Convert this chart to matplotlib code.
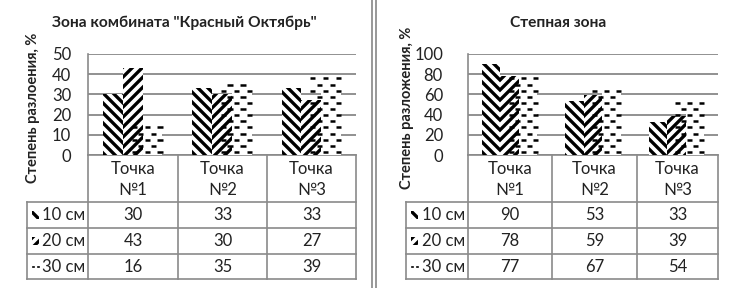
import numpy as np
import matplotlib
matplotlib.use("Agg")
import matplotlib.pyplot as plt
from matplotlib.patches import Rectangle
from matplotlib.collections import LineCollection
from matplotlib.lines import Line2D

W, H, DPI = 737, 288, 120

points = ["Точка\n№1", "Точка\n№2", "Точка\n№3"]
depths = ["10 см", "20 см", "30 см"]

left_title = 'Зона комбината "Красный Октябрь"'
left_ylabel = "Степень разлоения, %"
left_vals = [[30, 33, 33], [43, 30, 27], [16, 35, 39]]
left_ymax, left_ystep = 50, 10

right_title = "Степная зона"
right_ylabel = "Степень разложения, %"
right_vals = [[90, 53, 33], [78, 59, 39], [77, 67, 54]]
right_ymax, right_ystep = 100, 20

GRID = "#8a8a8a"
HATCHES = ["\\\\\\\\", "////", None]

plt.rcParams.update({
    "font.family": ["Lato", "DejaVu Sans"], "font.size": 10,
    "hatch.linewidth": 2.0, "text.color": "#222222",
})

fig = plt.figure(figsize=(W / DPI, H / DPI), dpi=DPI)
ov = fig.add_axes([0, 0, 1, 1])
ov.set_xlim(0, W)
ov.set_ylim(H, 0)
ov.axis("off")


def px_axes(x0, y0, x1, y1):
    return fig.add_axes([x0 / W, 1 - y1 / H, (x1 - x0) / W, (y1 - y0) / H])


def dashed_bar(ax, x, w, h, ymax):
    rect = Rectangle((x - w / 2, 0), w, h, facecolor="white", edgecolor="none", zorder=3)
    ax.add_patch(rect)
    step = ymax / 16.5
    period = w * 0.65
    dash = w * 0.26
    segs = []
    j = 0
    y = step * 0.5
    while y < h:
        off = (j % 2) * period / 2
        xs = x - w / 2 - period + off + w * 0.1
        while xs < x + w / 2:
            segs.append([(xs, y), (xs + dash, y)])
            xs += period
        y += step
        j += 1
    lc = LineCollection(segs, colors="black", linewidths=1.5, zorder=4)
    lc.set_clip_path(rect)
    ax.add_collection(lc)


def panel(vals, ymax, ystep, title, ylabel, ax_box, cols, lab_x0, lab_x1,
          title_x, ylabel_x, tick_pad):
    x0, y0, x1, y1 = ax_box
    ax = px_axes(x0, y0, x1, y1)
    bw = 0.222
    for k, series in enumerate(vals):
        for i, v in enumerate(series):
            xc = i + (k - 1) * bw
            if HATCHES[k]:
                ax.bar(xc, v, bw, color="white", edgecolor="black", linewidth=0,
                       hatch=HATCHES[k], zorder=3)
            else:
                dashed_bar(ax, xc, bw, v, ymax)
    ax.set_xlim(-0.5, len(points) - 0.5)
    ax.set_ylim(0, ymax)
    ax.set_yticks(np.arange(0, ymax + 1, ystep))
    ax.set_xticks([])
    ax.tick_params(axis="y", length=0, pad=tick_pad, labelsize=10, labelcolor="#222222")
    ax.grid(axis="y", color=GRID, linewidth=1.1, zorder=0)
    ax.set_axisbelow(True)
    for s in ["top", "right", "bottom"]:
        ax.spines[s].set_visible(False)
    ax.spines["left"].set_color(GRID)
    ax.spines["left"].set_linewidth(1.0)
    ax.patch.set_alpha(0)

    # data table
    rows = [155, 202, 228, 254, 279]
    lk = dict(color=GRID, linewidth=1.0)
    ov.add_line(Line2D([cols[0], cols[-1]], [rows[0], rows[0]], **lk))
    for r in rows[1:]:
        ov.add_line(Line2D([lab_x0, cols[-1]], [r, r], **lk))
    for c in cols:
        ov.add_line(Line2D([c, c], [rows[0], rows[-1]], **lk))
    ov.add_line(Line2D([lab_x0, lab_x0], [rows[1], rows[-1]], **lk))
    for i, p in enumerate(points):
        ov.text((cols[i] + cols[i + 1]) / 2, (rows[0] + rows[1]) / 2 + 1, p,
                ha="center", va="center", fontsize=10, linespacing=1.35)
    for k, series in enumerate(vals):
        yc = (rows[k + 1] + rows[k + 2]) / 2
        for i, v in enumerate(series):
            ov.text((cols[i] + cols[i + 1]) / 2, yc, str(v), ha="center", va="center",
                    fontsize=10)
        ov.text(lab_x1 - 3, yc, depths[k], ha="right", va="center", fontsize=10)
        sx = lab_x0 + 5
        if HATCHES[k]:
            ov.add_patch(Rectangle((sx, yc - 4), 7, 8, facecolor="white", edgecolor="black",
                                   linewidth=0, hatch=HATCHES[k]))
        else:
            ov.add_line(Line2D([sx + 1, sx + 2.5], [yc, yc], color="black", linewidth=1.0))
            ov.add_line(Line2D([sx + 6, sx + 7.5], [yc, yc], color="black", linewidth=1.0))

    ov.text(title_x, 23, title, ha="center", va="center", fontsize=9.3, fontweight="bold")
    ov.text(ylabel_x, 108, ylabel, ha="center", va="center", rotation=90,
            fontsize=8.8, fontweight="bold")
    return ax


panel(left_vals, left_ymax, left_ystep, left_title, left_ylabel,
      (88, 54, 356, 155), [88, 178, 267, 356], 27, 88, 184, 33, 10)
panel(right_vals, right_ymax, right_ystep, right_title, right_ylabel,
      (468, 54, 718, 155), [468, 552, 637, 718], 406, 468, 558, 407, 15)

for sx in [372, 376]:
    ov.add_line(Line2D([sx, sx], [0, H], color="#9a9a9a", linewidth=1.2))

fig.savefig("out.png", dpi=DPI, facecolor="white")
